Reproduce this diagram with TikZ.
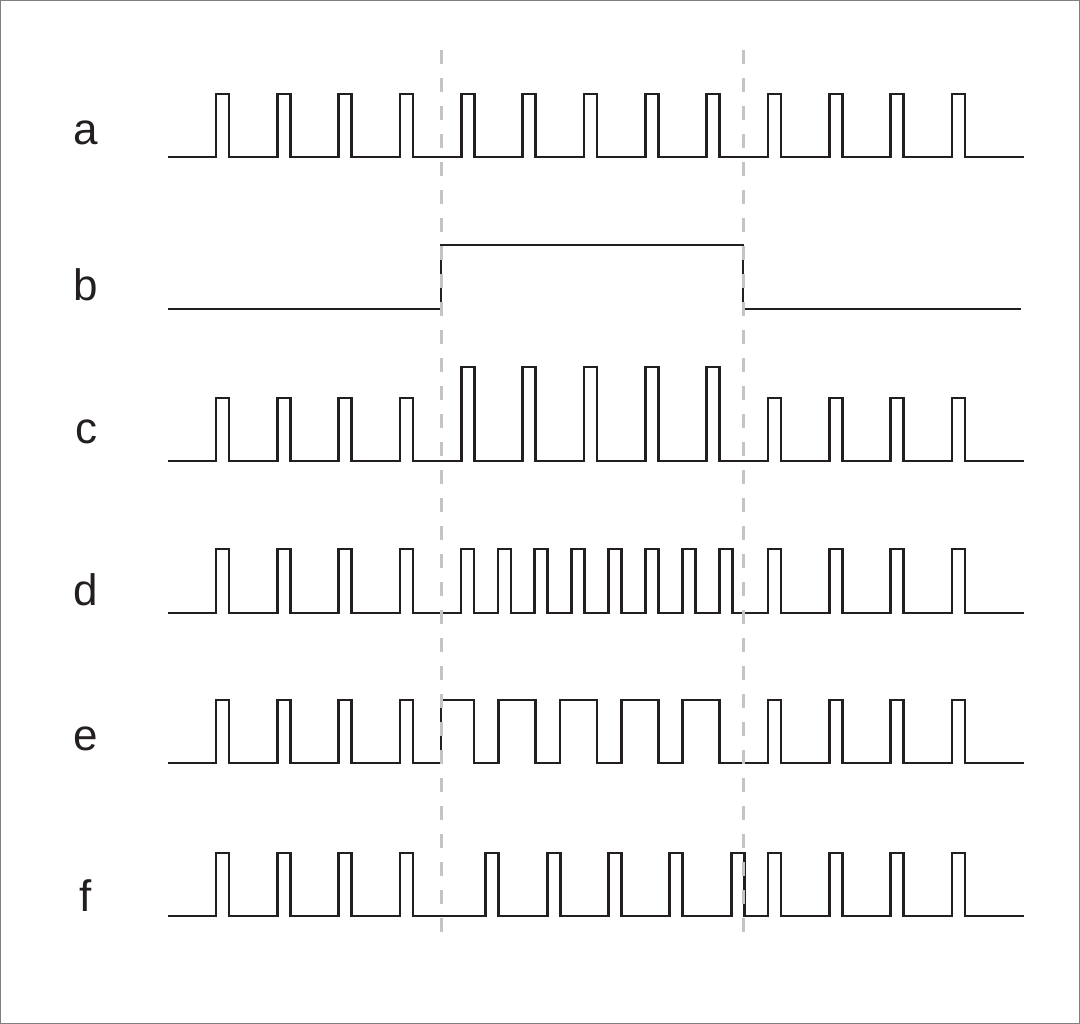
\documentclass[tikz,border=0pt]{standalone}
\usepackage{fontspec}
\setmainfont{Liberation Sans}
\usetikzlibrary{positioning}
\definecolor{sigblack}{HTML}{231F20}
\definecolor{markgray}{HTML}{C4C4C4}
\tikzset{
  signal/.style={draw=sigblack, line width=2.8pt, line join=miter},
  marker/.style={draw=markgray, line width=3pt, dash pattern=on 14pt off 14pt},
  lbl/.style={anchor=base, font=\fontsize{44}{52}\selectfont, text=sigblack}
}

\begin{document}
\begin{tikzpicture}[x=1pt, y=-1pt]
      \useasboundingbox (0,0) rectangle (1080,1024);
      \draw[gray, line width=1pt] (0.5,0.5) rectangle (1079.5,1023.5);
      % Row labels
      \foreach \n/\y in {a/145, b/301, c/444, d/605, e/750, f/911} {
          \node[lbl] (lbl\n) at (86,\y) {\n};
        }
      % a: reference pulse train
      \draw[signal] (168,157) \foreach \i in {0,...,12} {
          -- ({216+61.33*\i},157) -- ++(0,-63) -- ++(13,0) -- ++(0,63)
        } -- (1024,157);
      % b: gate
      \draw[signal] (168,309) -- (441,309) -- (441,245) -- (743,245) -- (743,309) -- (1021,309);
      % c: taller pulses while the gate is high
      \draw[signal] (168,461) \foreach \i/\h in {0/63,1/63,2/63,3/63,4/94,5/94,6/94,7/94,8/94,9/63,10/63,11/63,12/63} {
          -- ({216+61.33*\i},461) -- ++(0,-\h) -- ++(13,0) -- ++(0,\h)
        } -- (1024,461);
      % d: faster pulses while the gate is high
      \draw[signal] (168,613) \foreach \i in {0,...,3} {
          -- ({216+61.33*\i},613) -- ++(0,-64) -- ++(13,0) -- ++(0,64)
        } \foreach \j in {0,...,7} {
          -- ({461+36.9*\j},613) -- ++(0,-64) -- ++(13,0) -- ++(0,64)
        } \foreach \i in {9,...,12} {
          -- ({216+61.33*\i},613) -- ++(0,-64) -- ++(13,0) -- ++(0,64)
        } -- (1024,613);
      % e: wider pulses while the gate is high
      \draw[signal] (168,763) \foreach \i in {0,...,3} {
          -- ({216+61.33*\i},763) -- ++(0,-63) -- ++(13,0) -- ++(0,63)
        } -- (441,763) -- (441,700) -- (474,700) -- (474,763)
        \foreach \i in {5,...,8} {
          -- ({216+61.33*\i-24},763) -- ++(0,-63) -- ++(37,0) -- ++(0,63)
        } \foreach \i in {9,...,12} {
          -- ({216+61.33*\i},763) -- ++(0,-63) -- ++(13,0) -- ++(0,63)
        } -- (1024,763);
      % f: delayed pulses while the gate is high
      \draw[signal] (168,916) \foreach \i in {0,...,3} {
          -- ({216+61.33*\i},916) -- ++(0,-63) -- ++(13,0) -- ++(0,63)
        } \foreach \i in {4,...,8} {
          -- ({240.5+61.33*\i},916) -- ++(0,-63) -- ++(13,0) -- ++(0,63)
        } \foreach \i in {9,...,12} {
          -- ({216+61.33*\i},916) -- ++(0,-63) -- ++(13,0) -- ++(0,63)
        } -- (1024,916);
      % gate edges
      \coordinate (ontop) at (441,50);
      \coordinate (onbot) at (441,940);
      \coordinate (offtop) at (743,50);
      \coordinate (offbot) at (743,940);
      \draw[marker] (ontop) -- (onbot);
      \draw[marker] (offtop) -- (offbot);
    \end{tikzpicture}
\end{document}
